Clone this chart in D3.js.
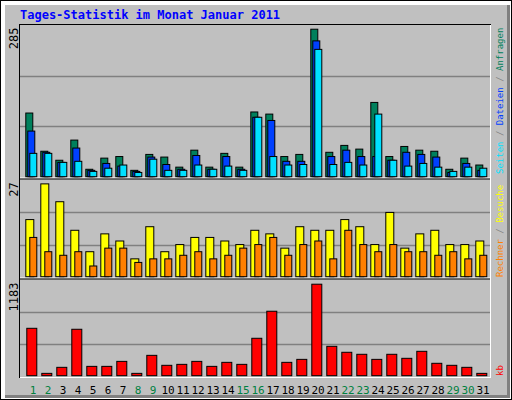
<!DOCTYPE html>
<html>
<head>
<meta charset="utf-8">
<script src="https://cdn.jsdelivr.net/npm/d3@7"></script>
<style>
  body { margin: 0; background: #fff; }
  svg text { font-family: "DejaVu Sans Mono", monospace; }
</style>
</head>
<body>
<svg id="chart" width="512" height="400"></svg>
<script>
// data
const days = d3.range(1, 32);
const weekend = [1, 2, 8, 9, 15, 16, 22, 23, 29, 30];
const hits  = [120, 48, 31, 69, 14, 35, 38, 12, 42, 37, 18, 50, 18, 44, 18, 122, 118, 38, 42, 278, 46, 59, 52, 140, 38, 57, 50, 48, 14, 35, 22];
const files = [86, 46, 27, 54, 12, 25, 20, 10, 37, 23, 14, 40, 14, 38, 14, 112, 106, 29, 29, 256, 38, 50, 38, 38, 31, 46, 42, 37, 8, 25, 12];
const pages = [44, 44, 27, 29, 10, 16, 22, 8, 33, 12, 12, 22, 14, 20, 12, 112, 38, 22, 23, 240, 23, 27, 22, 118, 31, 20, 25, 18, 10, 18, 16];
const visits = [16, 26, 21, 13, 7, 12, 10, 5, 14, 7, 9, 11, 11, 10, 9, 13, 12, 8, 14, 13, 13, 16, 14, 9, 18, 8, 12, 13, 9, 9, 10];
const hosts  = [11, 7, 6, 7, 3, 8, 8, 4, 5, 5, 6, 7, 5, 6, 8, 9, 11, 6, 9, 10, 5, 13, 9, 7, 9, 7, 7, 6, 7, 5, 6];
const kbytes = [589, 29, 104, 577, 116, 116, 178, 29, 253, 129, 141, 178, 116, 166, 141, 465, 801, 166, 203, 1137, 365, 291, 266, 203, 266, 216, 303, 154, 129, 104, 29];
const maxHits = 285, maxVisits = 27, maxKb = 1183;

const svg = d3.select('#chart');
const bg = '#c0c0c0';

// frame with shadow
svg.append('rect').attr('x', 0).attr('y', 0).attr('width', 512).attr('height', 400).attr('fill', '#000');
svg.append('rect').attr('x', 1).attr('y', 1).attr('width', 510).attr('height', 398).attr('fill', '#fff');
svg.append('rect').attr('x', 5).attr('y', 5).attr('width', 505).attr('height', 393).attr('fill', '#808080');
svg.append('rect').attr('x', 5).attr('y', 5).attr('width', 502).attr('height', 390).attr('fill', bg);

svg.append('text').attr('x', 20).attr('y', 19)
    .attr('fill', '#0000ff').attr('font-size', 12).attr('font-weight', 'bold')
    .text('Tages-Statistik im Monat Januar 2011');

const x = d3.scaleBand().domain(days).range([20, 485]).paddingInner(0);
const left = 20, right = 490;

const panels = [
  {top: 25.5, bottom: 176.7, max: maxHits, label: '285'},
  {top: 180.3, bottom: 276.7, max: maxVisits, label: '27'},
  {top: 280.5, bottom: 375.7, max: maxKb, label: '1183'}
];
panels.forEach(p => {
  p.y = d3.scaleLinear().domain([0, p.max]).range([p.bottom, p.top]);
});

// plot box
svg.append('rect').attr('x', left - 1).attr('y', 24).attr('width', right - left + 2).attr('height', 354)
    .attr('fill', '#000');
svg.append('rect').attr('x', left).attr('y', 25).attr('width', right - left + 1).attr('height', 353)
    .attr('fill', '#fff');
svg.append('rect').attr('x', left).attr('y', 25).attr('width', right - left).attr('height', 352)
    .attr('fill', bg);
[178, 278].forEach(yy => {
  svg.append('line').attr('x1', left).attr('x2', right).attr('y1', yy).attr('y2', yy).attr('stroke', '#fff').attr('stroke-width', 1);
  svg.append('line').attr('x1', left).attr('x2', right).attr('y1', yy + 1).attr('y2', yy + 1).attr('stroke', '#000').attr('stroke-width', 1);
});

// gridlines
panels.forEach(p => {
  [p.max / 3, 2 * p.max / 3].forEach(v => {
    svg.append('line').attr('x1', left).attr('x2', right)
        .attr('y1', Math.round(p.y(v)) + 0.5).attr('y2', Math.round(p.y(v)) + 0.5)
        .attr('stroke', '#808080').attr('stroke-width', 1.5);
  });
  svg.append('text')
      .attr('transform', `translate(18,${p.top + 2}) rotate(-90)`)
      .attr('text-anchor', 'end').attr('font-size', 12).attr('fill', '#000')
      .text(p.label);
});

function bars(values, p, offset, width, color) {
  svg.append('g').selectAll('rect').data(values).join('rect')
      .attr('x', (d, i) => x(days[i]) + offset + 0.5)
      .attr('y', d => p.y(d))
      .attr('width', width)
      .attr('height', d => p.bottom - p.y(d))
      .attr('fill', color).attr('stroke', '#000').attr('stroke-width', 1);
}

bars(hits, panels[0], 5.3, 7, '#00805c');
bars(files, panels[0], 7.3, 7, '#0040ff');
bars(pages, panels[0], 9.3, 7, '#00e0ff');
bars(visits, panels[1], 5.3, 8, '#ffff00');
bars(hosts, panels[1], 9.3, 7, '#ff8000');
bars(kbytes, panels[2], 6.3, 10, '#ff0000');

// day labels
svg.append('g').selectAll('text').data(days).join('text')
    .attr('x', d => x(d) + 13)
    .attr('y', 394)
    .attr('text-anchor', 'middle').attr('font-size', 11)
    .attr('fill', d => weekend.includes(d) ? '#008040' : '#000')
    .text(d => d);

// right-side legends, reading bottom to top
function legend(parts, yBottom) {
  const t = svg.append('text')
      .attr('transform', `translate(503,${yBottom}) rotate(-90)`)
      .attr('font-size', 9);
  parts.forEach(([s, c]) => t.append('tspan').attr('fill', c).text(s));
}
legend([['Seiten', '#00e0ff'], [' / ', '#808080'], ['Dateien', '#0040ff'], [' / ', '#808080'], ['Anfragen', '#00805c']], 174);
legend([['Rechner', '#ff8000'], [' / ', '#808080'], ['Besuche', '#ffff00']], 277);
legend([['kb', '#ff0000']], 376);
</script>
</body>
</html>
